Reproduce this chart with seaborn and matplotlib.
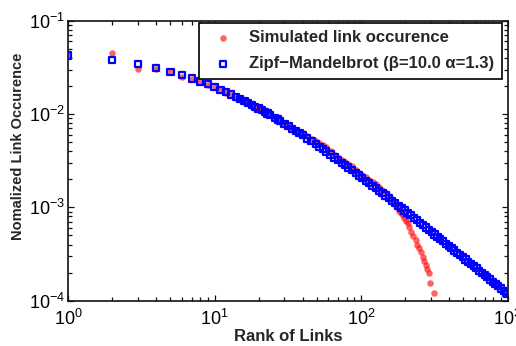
import numpy as np
import pandas as pd
import matplotlib
matplotlib.use("Agg")
import matplotlib.pyplot as plt
import seaborn as sns

# ---- data ----
zm_rank = [1, 2, 3, 4, 5, 6, 7, 8, 9, 10, 11, 12, 13, 14, 15, 16, 17, 18, 19, 20,
           21, 22, 23, 24, 26, 27, 28, 30, 32, 34, 36, 38, 40, 43, 46, 49, 52, 55, 58,
           62, 66, 70, 74, 78, 82, 87, 92, 97, 102, 108, 114, 120, 126, 133, 140, 147,
           155, 163, 171, 180, 189, 198, 208, 218, 229, 240, 252, 264, 277, 290, 304,
           318, 333, 348, 364, 380, 397, 415, 434, 453, 473, 494, 516, 539, 563, 588,
           614, 641, 669, 698, 729, 761, 794, 829, 865, 903, 942, 982, 1000]
zm_value = [0.04228, 0.03777, 0.03403, 0.03090, 0.02826, 0.02598, 0.02401, 0.02229,
            0.02078, 0.01944, 0.01824, 0.01718, 0.01621, 0.01534, 0.01455, 0.01382,
            0.01316, 0.01255, 0.01199, 0.01147, 0.01100, 0.01055, 0.01014, 0.00975,
            0.00905, 0.00874, 0.00844, 0.00789, 0.00741, 0.00697, 0.00658, 0.00623,
            0.00591, 0.00548, 0.00510, 0.00476, 0.00447, 0.00420, 0.00396, 0.00368,
            0.00343, 0.00321, 0.00301, 0.00283, 0.00267, 0.00250, 0.00234, 0.00220,
            0.00207, 0.00193, 0.00181, 0.00171, 0.00161, 0.00151, 0.00142, 0.00134,
            0.00125, 0.00118, 0.00111, 0.00104, 0.000981, 0.000926, 0.000871,
            0.000822, 0.000773, 0.000729, 0.000686, 0.000647, 0.000609, 0.000575,
            0.000542, 0.000512, 0.000483, 0.000457, 0.000432, 0.000409, 0.000387,
            0.000366, 0.000345, 0.000327, 0.000310, 0.000293, 0.000277, 0.000262,
            0.000248, 0.000235, 0.000222, 0.000210, 0.000199, 0.000188, 0.000178,
            0.000169, 0.000160, 0.000151, 0.000143, 0.000135, 0.000128, 0.000122,
            0.000119]

sim_rank = [1, 2, 3, 4, 5, 6, 7, 8, 9, 10, 11, 12, 13, 14, 15, 16, 17, 18, 19, 20,
            21, 22, 23, 24, 26, 27, 28, 30, 32, 34, 36, 38, 40, 43, 46, 49, 52, 55, 58,
            62, 66, 70, 74, 78, 82, 87, 92, 97, 102, 108, 114, 120, 126, 133, 140, 147,
            155, 163, 167, 172, 177, 183, 188, 192, 197, 202, 208, 213, 218, 227, 236,
            241, 247, 255, 263, 270, 276, 283, 289, 298, 313]
sim_value = [0.0425, 0.0448, 0.0303, 0.0306, 0.0279, 0.0248, 0.0236, 0.0219, 0.0205,
             0.0195, 0.0180, 0.0168, 0.0161, 0.0150, 0.0146, 0.0136, 0.0131, 0.0123,
             0.0120, 0.0113, 0.0110, 0.0104, 0.0102, 0.0097, 0.0091, 0.0087, 0.0085,
             0.0079, 0.0075, 0.0070, 0.0067, 0.0063, 0.0062, 0.00575, 0.00540,
             0.00510, 0.00488, 0.00465, 0.00438, 0.00400, 0.00362, 0.00337, 0.00318,
             0.00306, 0.00293, 0.00275, 0.00250, 0.00233, 0.00222, 0.00209, 0.00197,
             0.00187, 0.00176, 0.00165, 0.00154, 0.00144, 0.00132, 0.00122, 0.00113,
             0.00106, 0.00100, 0.00092, 0.00087, 0.00083, 0.00077, 0.00072, 0.00068,
             0.00061, 0.000545, 0.000495, 0.000445, 0.000400, 0.000365, 0.000330,
             0.000295, 0.000265, 0.000240, 0.000220, 0.000198, 0.000155, 0.000121]

sim_label = "Simulated link occurence"
zm_label = "Zipf\u2212Mandelbrot (\u03b2=10.0 \u03b1=1.3)"
x_label = "Rank of Links"
y_label = "Nomalized Link Occurence"

# ---- style ----
sns.set_style("ticks")
plt.rcParams["font.family"] = ["Liberation Sans", "DejaVu Sans"]
plt.rcParams["mathtext.fontset"] = "custom"
plt.rcParams["mathtext.rm"] = "Liberation Sans"
plt.rcParams["axes.edgecolor"] = "#111111"
plt.rcParams["axes.linewidth"] = 1.2

fig = plt.figure(figsize=(5.16, 3.46), dpi=100)
ax = fig.add_axes([68 / 516, 1 - 300.7 / 346, (507.5 - 68) / 516, (300.7 - 20.7) / 346])

df_sim = pd.DataFrame({"rank": sim_rank, "value": sim_value})
df_zm = pd.DataFrame({"rank": zm_rank, "value": zm_value})

sns.scatterplot(data=df_sim, x="rank", y="value", ax=ax, marker="o", s=22,
                color="#ff1010", alpha=0.65, linewidth=0, label=sim_label, zorder=2)
sns.scatterplot(data=df_zm, x="rank", y="value", ax=ax, marker="s", s=20,
                facecolor="none", edgecolor="#0000ff", linewidth=1.6,
                label=zm_label, zorder=3)

ax.set_xscale("log")
ax.set_yscale("log")
ax.set_xlim(1, 1000)
ax.set_ylim(1e-4, 1e-1)

ax.tick_params(which="both", direction="in", top=True, right=True, colors="#111111",
               labelcolor="black", labelsize=13, width=0.9)
ax.tick_params(which="major", length=4)
ax.tick_params(which="minor", length=3)
ax.tick_params(axis="x", pad=6)
ax.tick_params(axis="y", pad=2)

ax.set_xlabel(x_label, fontsize=12, fontweight="bold", labelpad=0)
ax.set_ylabel(y_label, fontsize=10.5, fontweight="bold")
ax.yaxis.set_label_coords(-0.098, 0.5525)

leg = ax.legend(loc="upper right", bbox_to_anchor=((502 - 68) / 439.5, (300.7 - 23) / 280),
                borderaxespad=0, frameon=True, fancybox=False, shadow=False,
                prop={"size": 12, "weight": "bold"}, handletextpad=0.6,
                labelspacing=0.65, borderpad=0.45, handlelength=2.0, markerscale=1.0)
leg.get_frame().set_edgecolor("#111111")
leg.get_frame().set_linewidth(1.3)
leg.get_frame().set_alpha(1)

fig.savefig("out.png", dpi=100)
